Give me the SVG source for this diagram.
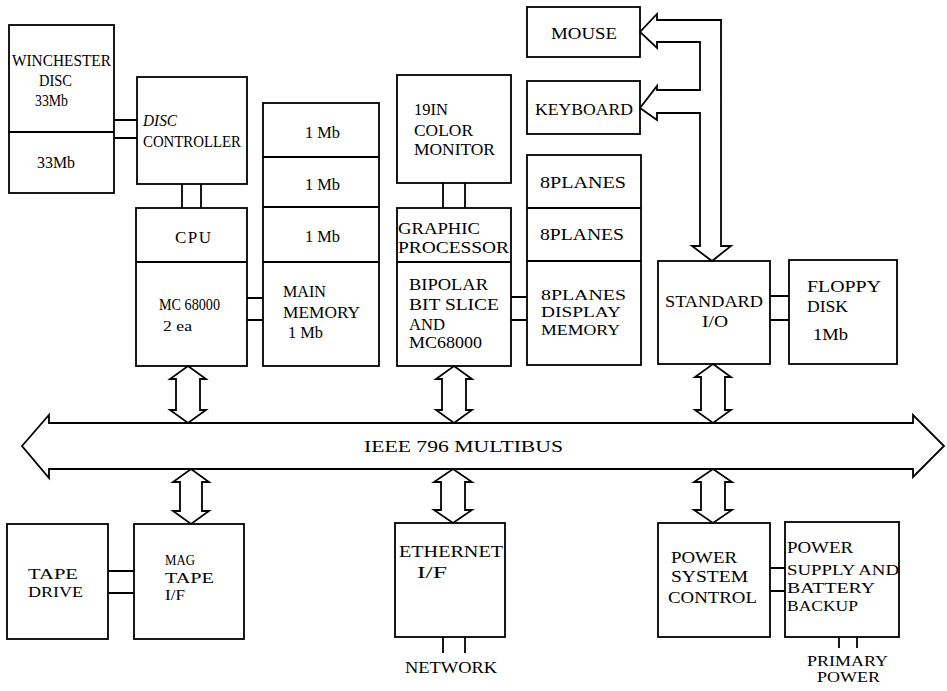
<svg xmlns="http://www.w3.org/2000/svg" width="947" height="691" viewBox="0 0 947 691">
<style>
.box{fill:none;stroke:#000;stroke-width:1.8}
.ln{fill:none;stroke:#000;stroke-width:1.8}
.ar{fill:#fff;stroke:#000;stroke-width:1.8;stroke-linejoin:miter}
text{font-family:"Liberation Serif","Times New Roman",serif;font-size:17px;fill:#000}
.sm{font-size:15px}
</style>
<rect width="947" height="691" fill="#fff"/>
<g id="connectors">
<path class="ln" d="M114,120H137M114,138H137M182,184V208M201,184V208M247,298H263M247,320H263M443,183V208M465,183V208M511,297H527M511,320H527M770,296H789M770,320H789M108,571H134M108,593H134M443,637V653M465,637V653M770,568H785M770,591H785M839,637V648M857,637V648"/>
<polygon id="io-branch" class="ar" points="721,246 721,20 657,20 657,14 640,32 657,48 657,42 700,42 700,90 657,90 657,86 640,108 657,120 657,113 700,113 700,246 692,246 712,261 731,246"/>
<polygon class="ar" points="188,366 206,379 200,379 200,410 206,410 188,423 170,410 176,410 176,379 170,379"/>
<polygon class="ar" points="454,366 472,379 466,379 466,410 472,410 454,423 436,410 442,410 442,379 436,379"/>
<polygon class="ar" points="713,364 731,377 725,377 725,410 731,410 713,423 695,410 701,410 701,377 695,377"/>
<polygon class="ar" points="191,469 209,482 202,482 202,511 209,511 191,524 173,511 180,511 180,482 173,482"/>
<polygon class="ar" points="453,469 472,482 465,482 465,510 472,510 453,523 434,510 441,510 441,482 434,482"/>
<polygon class="ar" points="713,469 732,482 725,482 725,510 732,510 713,523 694,510 701,510 701,482 694,482"/>
</g>
<g id="bus">
<polygon class="ar" points="22,446 49,415 49,423 913,423 913,415 944,446 913,477 913,469 49,469 49,478"/>
<text x="364" y="452" textLength="199" lengthAdjust="spacingAndGlyphs">IEEE 796  MULTIBUS</text>
</g>
<g id="winchester">
<rect class="box" x="9" y="25" width="105" height="168"/>
<line class="ln" x1="9" y1="132" x2="114" y2="132"/>
<text x="12" y="66" textLength="99" lengthAdjust="spacingAndGlyphs">WINCHESTER</text>
<text x="39" y="86" textLength="33" lengthAdjust="spacingAndGlyphs">DISC</text>
<text x="35" y="106" textLength="33" lengthAdjust="spacingAndGlyphs">33Mb</text>
<text x="37" y="168" textLength="38" lengthAdjust="spacingAndGlyphs">33Mb</text>
</g>
<g id="disc-controller">
<rect class="box" x="137" y="77" width="110" height="107"/>
<text x="143" y="126" textLength="34" lengthAdjust="spacingAndGlyphs" font-style="italic">DISC</text>
<text x="143" y="147" textLength="98" lengthAdjust="spacingAndGlyphs">CONTROLLER</text>
</g>
<g id="cpu">
<rect class="box" x="136" y="208" width="111" height="158"/>
<line class="ln" x1="136" y1="262" x2="247" y2="262"/>
<text x="175" y="243" textLength="36" lengthAdjust="spacing">CPU</text>
<text x="159" y="310" textLength="61" lengthAdjust="spacingAndGlyphs">MC 68000</text>
<text x="163" y="331" class="sm" textLength="29" lengthAdjust="spacingAndGlyphs">2 ea</text>
</g>
<g id="main-memory">
<rect class="box" x="263" y="103" width="116" height="263"/>
<line class="ln" x1="263" y1="157" x2="379" y2="157"/>
<line class="ln" x1="263" y1="207" x2="379" y2="207"/>
<line class="ln" x1="263" y1="262" x2="379" y2="262"/>
<text x="305" y="138" textLength="35" lengthAdjust="spacingAndGlyphs">1 Mb</text>
<text x="305" y="190" textLength="35" lengthAdjust="spacingAndGlyphs">1 Mb</text>
<text x="305" y="242" textLength="35" lengthAdjust="spacingAndGlyphs">1 Mb</text>
<text x="283" y="297" textLength="43" lengthAdjust="spacingAndGlyphs">MAIN</text>
<text x="283" y="318" textLength="77" lengthAdjust="spacingAndGlyphs">MEMORY</text>
<text x="288" y="338" textLength="35" lengthAdjust="spacingAndGlyphs">1 Mb</text>
</g>
<g id="color-monitor">
<rect class="box" x="397" y="75" width="114" height="108"/>
<text x="414" y="115" textLength="34" lengthAdjust="spacingAndGlyphs">19IN</text>
<text x="414" y="136" textLength="59" lengthAdjust="spacingAndGlyphs">COLOR</text>
<text x="414" y="155" textLength="81" lengthAdjust="spacingAndGlyphs">MONITOR</text>
</g>
<g id="graphic-processor">
<rect class="box" x="397" y="208" width="114" height="158"/>
<line class="ln" x1="397" y1="262" x2="511" y2="262"/>
<text x="398" y="234" textLength="82" lengthAdjust="spacingAndGlyphs">GRAPHIC</text>
<text x="398" y="253" textLength="111" lengthAdjust="spacingAndGlyphs">PROCESSOR</text>
<text x="409" y="290" textLength="79" lengthAdjust="spacingAndGlyphs">BIPOLAR</text>
<text x="409" y="310" textLength="90" lengthAdjust="spacingAndGlyphs">BIT  SLICE</text>
<text x="409" y="330" textLength="36" lengthAdjust="spacingAndGlyphs">AND</text>
<text x="409" y="348" textLength="73" lengthAdjust="spacingAndGlyphs">MC68000</text>
</g>
<g id="display-memory">
<rect class="box" x="527" y="155" width="114" height="210"/>
<line class="ln" x1="527" y1="208" x2="641" y2="208"/>
<line class="ln" x1="527" y1="261" x2="641" y2="261"/>
<text x="540" y="188" textLength="86" lengthAdjust="spacingAndGlyphs">8PLANES</text>
<text x="540" y="240" textLength="84" lengthAdjust="spacingAndGlyphs">8PLANES</text>
<text x="541" y="300" class="sm" textLength="85" lengthAdjust="spacingAndGlyphs">8PLANES</text>
<text x="541" y="317" class="sm" textLength="80" lengthAdjust="spacingAndGlyphs">DISPLAY</text>
<text x="541" y="335" class="sm" textLength="79" lengthAdjust="spacingAndGlyphs">MEMORY</text>
</g>
<g id="mouse">
<rect class="box" x="527" y="7" width="113" height="50"/>
<text x="551" y="39" textLength="66" lengthAdjust="spacingAndGlyphs">MOUSE</text>
</g>
<g id="keyboard">
<rect class="box" x="527" y="81" width="113" height="53"/>
<text x="535" y="115" textLength="98" lengthAdjust="spacingAndGlyphs">KEYBOARD</text>
</g>
<g id="standard-io">
<rect class="box" x="658" y="261" width="112" height="103"/>
<text x="665" y="307" textLength="98" lengthAdjust="spacingAndGlyphs">STANDARD</text>
<text x="702" y="327" textLength="26" lengthAdjust="spacingAndGlyphs">I/O</text>
</g>
<g id="floppy-disk">
<rect class="box" x="789" y="260" width="108" height="104"/>
<text x="807" y="292" textLength="74" lengthAdjust="spacingAndGlyphs">FLOPPY</text>
<text x="807" y="312" textLength="41" lengthAdjust="spacingAndGlyphs">DISK</text>
<text x="813" y="340" textLength="35" lengthAdjust="spacingAndGlyphs">1Mb</text>
</g>
<g id="tape-drive">
<rect class="box" x="7" y="524" width="101" height="115"/>
<text x="28" y="579" class="sm" textLength="50" lengthAdjust="spacingAndGlyphs">TAPE</text>
<text x="28" y="597" class="sm" textLength="55" lengthAdjust="spacingAndGlyphs">DRIVE</text>
</g>
<g id="mag-tape-if">
<rect class="box" x="134" y="524" width="110" height="115"/>
<text x="165" y="565" class="sm" textLength="30" lengthAdjust="spacingAndGlyphs">MAG</text>
<text x="165" y="583" class="sm" textLength="49" lengthAdjust="spacingAndGlyphs">TAPE</text>
<text x="165" y="600" class="sm" textLength="20" lengthAdjust="spacingAndGlyphs">I/F</text>
</g>
<g id="ethernet-if">
<rect class="box" x="395" y="523" width="110" height="114"/>
<text x="399" y="557" textLength="104" lengthAdjust="spacingAndGlyphs">ETHERNET</text>
<text x="417" y="578" textLength="30" lengthAdjust="spacingAndGlyphs">I/F</text>
<text x="405" y="673" textLength="92" lengthAdjust="spacingAndGlyphs">NETWORK</text>
</g>
<g id="power-system-control">
<rect class="box" x="658" y="523" width="112" height="114"/>
<text x="671" y="563" textLength="66" lengthAdjust="spacingAndGlyphs">POWER</text>
<text x="671" y="582" textLength="77" lengthAdjust="spacingAndGlyphs">SYSTEM</text>
<text x="668" y="603" textLength="89" lengthAdjust="spacingAndGlyphs">CONTROL</text>
</g>
<g id="power-supply">
<rect class="box" x="785" y="522" width="114" height="115"/>
<text x="787" y="553" textLength="66" lengthAdjust="spacingAndGlyphs">POWER</text>
<text x="787" y="575" class="sm" textLength="112" lengthAdjust="spacingAndGlyphs">SUPPLY AND</text>
<text x="787" y="593" class="sm" textLength="88" lengthAdjust="spacingAndGlyphs">BATTERY</text>
<text x="787" y="611" class="sm" textLength="71" lengthAdjust="spacingAndGlyphs">BACKUP</text>
<text x="807" y="666" class="sm" textLength="81" lengthAdjust="spacingAndGlyphs">PRIMARY</text>
<text x="817" y="682" class="sm" textLength="63" lengthAdjust="spacingAndGlyphs">POWER</text>
</g>
</svg>
